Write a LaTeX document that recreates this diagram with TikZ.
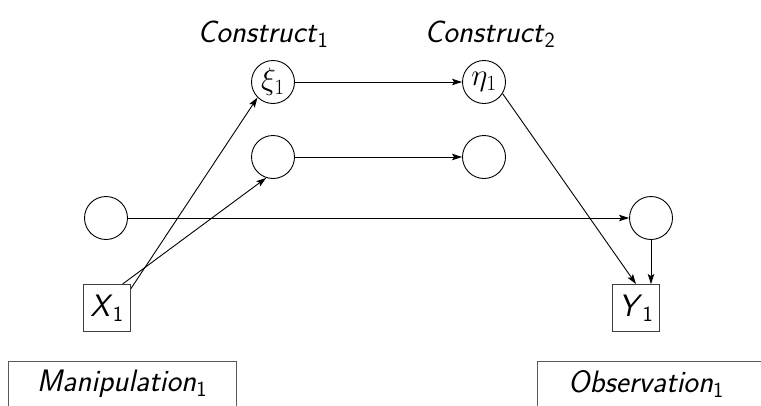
\RequirePackage{fix-cm}
\documentclass[tikz,border=0pt]{standalone}
\usetikzlibrary{arrows.meta}
\begin{document}
\begin{tikzpicture}[x=1pt,y=-1pt,font=\fontsize{31}{36}\selectfont,
  lat/.style={circle,draw,line width=0.9pt,minimum size=43pt,inner sep=0pt},
  obs/.style={rectangle,draw=black!75,line width=0.9pt,minimum size=47pt,inner sep=0pt},
  frame/.style={rectangle,draw=black!65,line width=0.9pt,minimum width=228pt,minimum height=70pt,anchor=north west,inner sep=0pt},
  arr/.style={-{Stealth[length=10pt,width=6.5pt,inset=2pt]},line width=0.9pt},
  lbl/.style={inner sep=0pt}]
\useasboundingbox (0,0) rectangle (761,405);
\clip (0,0) rectangle (761,405);
% labels
\node[lbl] (c1) at (263,34) {\textsf{\textit{Construct}\textsubscript{1}}};
\node[lbl] (c2) at (490,34) {\textsf{\textit{Construct}\textsubscript{2}}};
% latent nodes
\node[lat] (xi) at (273,82) {$\xi_1$};
\node[lat] (eta) at (484,82) {$\eta_1$};
\node[lat] (m1) at (273,157) {};
\node[lat] (m2) at (484,157) {};
\node[lat] (l) at (106,218) {};
\node[lat] (r) at (651,218) {};
% observed
\node[obs] (x) at (107,308) {\textsf{\textit{X}\textsubscript{1}}};
\node[obs] (y) at (636,308) {\textsf{\textit{Y}\textsubscript{1}}};
% frames
\node[frame] (mf) at (8,361) {};
\node[frame] (of) at (537,361) {};
\node[lbl] (mt) at (122,384) {\textsf{\textit{Manipulation}\textsubscript{1}}};
\node[lbl] (ot) at (646,384) {\textsf{\textit{Observation}\textsubscript{1}}};
% connectors
\draw[arr] (xi) -- (eta);
\draw[arr] (m1) -- (m2);
\draw[arr] (l) -- (r);
\draw[arr] (x.39) -- (xi.225);
\draw[arr] (x.57) -- (m1.252);
\draw[arr] (eta.-32) -- (y.north);
\draw[arr] (r.south) -- (r.south |- y.north);
\end{tikzpicture}
\end{document}
